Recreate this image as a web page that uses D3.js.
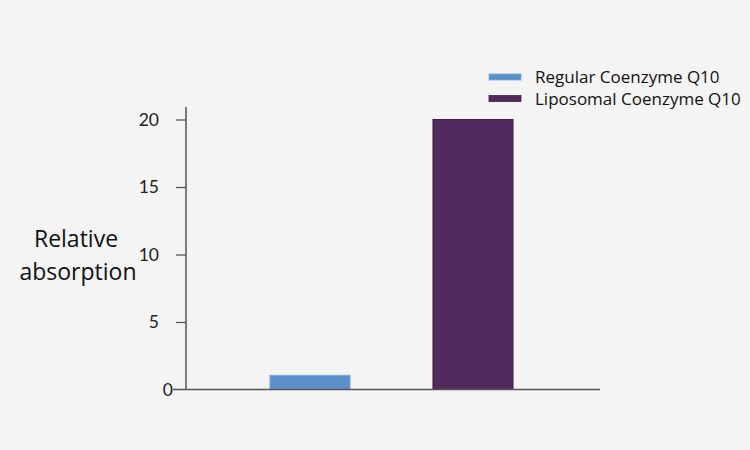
<!DOCTYPE html>
<html><head><meta charset="utf-8">
<script src="https://cdn.jsdelivr.net/npm/d3@7"></script>
<style>body{margin:0;background:#f4f4f4;}svg{display:block;}</style>
</head><body>
<script>
const categories = ["Regular Coenzyme Q10", "Liposomal Coenzyme Q10"];
const values = [1.05, 20];
const colors = ["#5b8fc9", "#522b5e"];
const strokes = ["#7aa8dc", "#3f1e4b"];
const yTicks = [0, 5, 10, 15, 20];

const W = 750, H = 450;
const svg = d3.select("body").append("svg").attr("width", W).attr("height", H)
  .style("background", "#f4f4f4");

const y = d3.scaleLinear().domain([0, 20]).range([389.5, 119.5]);
const x = d3.scaleBand().domain(categories).range([188.5, 594.5]).paddingInner(0.509).paddingOuter(0.5);

// bars
svg.selectAll("rect.bar").data(categories).enter().append("rect")
  .attr("x", d => x(d))
  .attr("width", x.bandwidth())
  .attr("y", (d, i) => y(values[i]))
  .attr("height", (d, i) => y(0) - y(values[i]))
  .attr("fill", (d, i) => colors[i])
  .attr("stroke", (d, i) => strokes[i])
  .attr("stroke-width", 1);

// y axis
const yAxis = d3.axisLeft(y).tickValues(yTicks).tickSize(10).tickPadding(17).tickFormat(d3.format("d"));
const gy = svg.append("g").attr("transform", "translate(186,0)").call(yAxis);
gy.select(".domain").remove();
gy.append("line").attr("x1", 0).attr("x2", 0).attr("y1", 107).attr("y2", 389.5)
  .attr("stroke", "#555").attr("stroke-width", 1.5);
gy.selectAll(".tick line").attr("stroke", "#555").attr("stroke-width", 1.3);
gy.selectAll(".tick text").attr("font-family", "Lato, sans-serif").attr("font-size", 17.5)
  .attr("fill", "#222")
  .attr("dx", d => d === 0 ? 14 : 0);
gy.selectAll(".tick").filter(d => d === 0).select("line").remove();

// x axis line
svg.append("line").attr("x1", 173).attr("x2", 600).attr("y1", 389.5).attr("y2", 389.5)
  .attr("stroke", "#555").attr("stroke-width", 1.5);

// y label
const lab = svg.append("text").attr("font-family", "'Open Sans', sans-serif").attr("font-size", 23)
  .attr("fill", "#111").attr("text-anchor", "middle");
lab.append("tspan").attr("x", 76).attr("y", 247).text("Relative");
lab.append("tspan").attr("x", 78).attr("y", 280).text("absorption");

// legend
const lg = svg.append("g");
categories.forEach((c, i) => {
  const yy = 77 + i * 21.5;
  lg.append("rect").attr("x", 489).attr("y", yy - 3).attr("width", 32).attr("height", 6)
    .attr("fill", colors[i]).attr("stroke", strokes[i]).attr("stroke-width", 0.8);
  lg.append("text").attr("x", 535).attr("y", yy + 6).attr("font-family", "'Open Sans', sans-serif")
    .attr("font-size", 17).attr("fill", "#111").text(c);
});
</script>
</body></html>
